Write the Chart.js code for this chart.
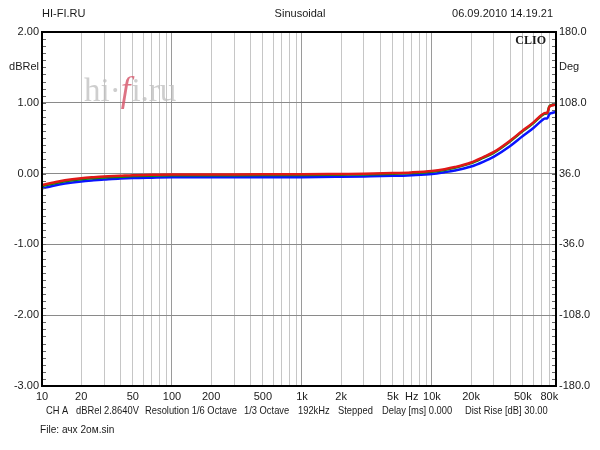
<!DOCTYPE html>
<html>
<head>
<meta charset="utf-8">
<script src="https://cdn.jsdelivr.net/npm/chart.js@4.4.0/dist/chart.umd.min.js"></script>
<style>
  body { margin: 0; background: #fff; }
  #wrap { width: 600px; height: 450px; }
</style>
</head>
<body>
<div id="wrap"><canvas id="grafico" width="600" height="450"></canvas></div>
<script>
// frequencies (Hz) and the three measured curves (dBRel)
const frecuencias = [10, 12, 15, 20, 25, 30, 40, 50, 70, 100, 200, 500, 1000, 2000, 3000, 5000, 7000, 10000, 12500, 15000, 20000, 25000, 30000, 40000, 50000, 60000, 70000, 74000, 77000, 80000, 85000, 90000];
const rojo  = [-0.16, -0.13, -0.095, -0.065, -0.05, -0.04, -0.03, -0.022, -0.018, -0.014, -0.013, -0.01, -0.01, -0.005, -0.002, 0.007, 0.017, 0.037, 0.062, 0.092, 0.157, 0.237, 0.307, 0.467, 0.61, 0.72, 0.83, 0.855, 0.855, 0.945, 0.965, 0.975];
const verde = [-0.175, -0.145, -0.11, -0.08, -0.065, -0.055, -0.045, -0.035, -0.03, -0.025, -0.025, -0.02, -0.02, -0.015, -0.012, -0.003, 0.007, 0.027, 0.052, 0.082, 0.147, 0.227, 0.297, 0.457, 0.60, 0.71, 0.82, 0.845, 0.85, 0.95, 0.97, 0.99];
const azul  = [-0.21, -0.175, -0.14, -0.11, -0.095, -0.085, -0.07, -0.062, -0.057, -0.053, -0.052, -0.05, -0.05, -0.045, -0.04, -0.032, -0.022, -0.005, 0.02, 0.045, 0.10, 0.17, 0.24, 0.39, 0.53, 0.64, 0.75, 0.78, 0.78, 0.84, 0.86, 0.87];

// axis ticks
const lineasX = [];
[10, 100, 1000, 10000].forEach(d => { for (let i = 1; i <= 9; i++) lineasX.push(d * i); });
const etiquetasX = {10: '10', 20: '20', 50: '50', 100: '100', 200: '200', 500: '500', 1000: '1k', 2000: '2k', 5000: '5k', 7000: 'Hz', 10000: '10k', 20000: '20k', 50000: '50k', 80000: '80k'};

// footer pieces
const pie = [['CH A', 46], ['dBRel 2.8640V', 76], ['Resolution 1/6 Octave', 145], ['1/3 Octave', 244], ['192kHz', 298], ['Stepped', 338], ['Delay [ms] 0.000', 382], ['Dist Rise [dB] 30.00', 465]];

const fuente = '"Liberation Sans", Arial, sans-serif';
Chart.defaults.font.family = fuente;
Chart.defaults.font.size = 11;
Chart.defaults.color = '#1a1a1a';

const decoracion = {
  id: 'decoracion',
  beforeDatasetsDraw(chart) {
    const c = chart.ctx;
    // watermark
    c.save();
    c.textBaseline = 'alphabetic';
    c.font = '33px "Liberation Serif", "DejaVu Serif", serif';
    c.fillStyle = 'rgba(190,190,190,0.75)';
    let x = 84, y = 101;
    c.fillText('hi·', x, y);
    x += c.measureText('hi·').width;
    c.font = 'italic 35px "Liberation Serif", "DejaVu Serif", serif';
    c.fillStyle = 'rgba(215,90,110,0.85)';
    c.fillText('f', x, y);
    x += c.measureText('f').width + 1;
    c.font = '33px "Liberation Serif", "DejaVu Serif", serif';
    c.fillStyle = 'rgba(190,190,190,0.75)';
    c.fillText('i.ru', x, y);
    c.restore();
  },
  afterDraw(chart) {
    const c = chart.ctx;
    const a = chart.chartArea;
    const y = chart.scales.y;
    c.save();
    // minor ticks on both sides
    c.strokeStyle = '#666';
    c.lineWidth = 1;
    for (let v = -30; v <= 20; v++) {
      const py = Math.round(y.getPixelForValue(v / 10)) + 0.5;
      c.beginPath();
      c.moveTo(a.left, py); c.lineTo(a.left + 4, py);
      c.moveTo(a.right - 4, py); c.lineTo(a.right, py);
      c.stroke();
    }
    // frame
    c.strokeStyle = '#000';
    c.lineWidth = 2;
    c.strokeRect(a.left, a.top, a.right - a.left, a.bottom - a.top);
    // texts
    c.fillStyle = '#1a1a1a';
    c.font = '11px ' + fuente;
    c.textBaseline = 'middle';
    c.textAlign = 'left';
    c.fillText('HI-FI.RU', 42, 14);
    c.textAlign = 'center';
    c.fillText('Sinusoidal', 300, 14);
    c.textAlign = 'right';
    c.fillText('06.09.2010 14.19.21', 553, 14);
    c.fillText('dBRel', 39, 67);
    c.textAlign = 'left';
    c.fillText('Deg', 559, 67);
    // footer is a narrower face: squeeze horizontally
    const texto = (t, px, py, k) => {
      c.save();
      c.translate(px, py);
      c.scale(k, 1);
      c.fillText(t, 0, 0);
      c.restore();
    };
    pie.forEach(([t, px]) => texto(t, px, 411, 0.85));
    texto('File: ачх 2ом.sin', 40, 430, 0.92);
    c.font = 'bold 12px "Liberation Serif", "DejaVu Serif", serif';
    c.textAlign = 'right';
    c.fillText('CLIO', 546, 41);
    c.restore();
  }
};

const serie = (datos, color) => ({
  data: frecuencias.map((f, i) => ({x: f, y: datos[i]})),
  borderColor: color,
  borderWidth: 2.5,
  pointRadius: 0,
  cubicInterpolationMode: 'monotone',
  fill: false
});

new Chart(document.getElementById('grafico'), {
  type: 'line',
  data: {
    datasets: [serie(rojo, '#e01818'), serie(verde, '#0a8a14'), serie(azul, '#0a14ff')]
  },
  options: {
    responsive: false,
    animation: false,
    layout: {padding: {top: 32, left: 0, right: 0, bottom: 0}},
    plugins: {legend: {display: false}, tooltip: {enabled: false}},
    scales: {
      x: {
        type: 'logarithmic',
        min: 10,
        max: 90000,
        afterBuildTicks: s => { s.ticks = lineasX.map(v => ({value: v})); },
        afterFit: s => { s.height = 64; },
        ticks: {
          autoSkip: false,
          maxRotation: 0,
          padding: 4,
          callback: v => etiquetasX[v] || ''
        },
        grid: {
          drawTicks: false,
          color: ctx => [10, 100, 1000, 10000].includes(ctx.tick && ctx.tick.value) ? '#9a9a9a' : '#c6c6c6'
        },
        border: {display: false}
      },
      y: {
        position: 'left',
        min: -3,
        max: 2,
        afterFit: s => { s.width = 42; },
        ticks: {stepSize: 1, padding: 3, callback: v => v.toFixed(2)},
        grid: {drawTicks: false, color: '#8a8a8a'},
        border: {display: false}
      },
      y2: {
        position: 'right',
        min: -180,
        max: 180,
        afterFit: s => { s.width = 44; },
        ticks: {stepSize: 72, padding: 3, callback: v => v.toFixed(1)},
        grid: {display: false, drawTicks: false},
        border: {display: false}
      }
    }
  },
  plugins: [decoracion]
});
</script>
</body>
</html>
